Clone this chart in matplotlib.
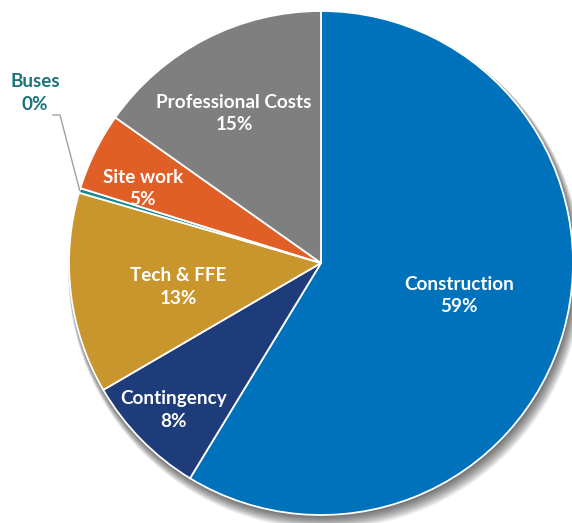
import matplotlib
matplotlib.use("Agg")
import matplotlib.pyplot as plt
import numpy as np
from matplotlib.patches import Circle

categories = ["Construction", "Contingency", "Tech & FFE", "Buses", "Site work", "Professional Costs"]
values = [58.7, 7.9, 12.9, 0.3, 5.0, 15.2]
colors = ["#0072BB", "#1F3C7A", "#C9952D", "#168A8E", "#DF5F27", "#7F7F7F"]
label_r = [0.56, 0.82, 0.574, None, 0.77, 0.695]
label_dtheta = [3.4, 0.0, 1.7, 0.0, 2.9, 2.4]

plt.rcParams['font.family'] = ['Lato', 'DejaVu Sans']

W, H = 572, 523
fig = plt.figure(figsize=(W/100, H/100), dpi=100)
ax = fig.add_axes([0, 0, 1, 1])
cx, cy, R = 321, 263, 252
ax.set_xlim(-cx/R, (W-cx)/R)
ax.set_ylim(-(H-cy)/R, cy/R)
ax.set_aspect('equal')
ax.axis('off')

# soft shadow
for i in range(14):
    off = 0.006 + i*0.0022
    ax.add_patch(Circle((off*0.5, -off), 1.0 + i*0.0016, color='black',
                        alpha=0.05, lw=0, zorder=0))

wedges, _ = ax.pie(values, colors=colors, startangle=90, counterclock=False,
                   radius=1.0, frame=True,
                   wedgeprops=dict(edgecolor='white', linewidth=1.3))
ax.set_xlim(-cx/R, (W-cx)/R)
ax.set_ylim(-(H-cy)/R, cy/R)
ax.axis('off')
for w in wedges:
    w.set_zorder(2)

ydrop = 2.5 / R
total = sum(values)
for w, cat, v, r, dt in zip(wedges, categories, values, label_r, label_dtheta):
    pct = f"{v/total*100:.0f}%"
    if r is None:
        continue
    mid = np.deg2rad((w.theta1 + w.theta2) / 2 + dt)
    ax.text(r*np.cos(mid), r*np.sin(mid) - ydrop, f"{cat}\n{pct}", ha='center', va='center',
            color='white', fontsize=13.6, fontweight='bold', linespacing=1.42, zorder=5)

# Buses callout
bw = wedges[3]
mid = np.deg2rad((bw.theta1 + bw.theta2) / 2)
px, py = np.cos(mid), np.sin(mid)
kx, ky = (60-cx)/R, (cy-115)/R
ex, ey = (53-cx)/R, (cy-115)/R
ax.plot([px, kx, ex], [py, ky, ey], color='#A0A0A0', lw=1.0, zorder=4)
ax.text((35-cx)/R, (cy-93)/R, f"Buses\n{values[3]/total*100:.0f}%", ha='center', va='center',
        color='#1B7478', fontsize=13.6, fontweight='bold', linespacing=1.42, zorder=5)

fig.savefig("out.png", dpi=100)
